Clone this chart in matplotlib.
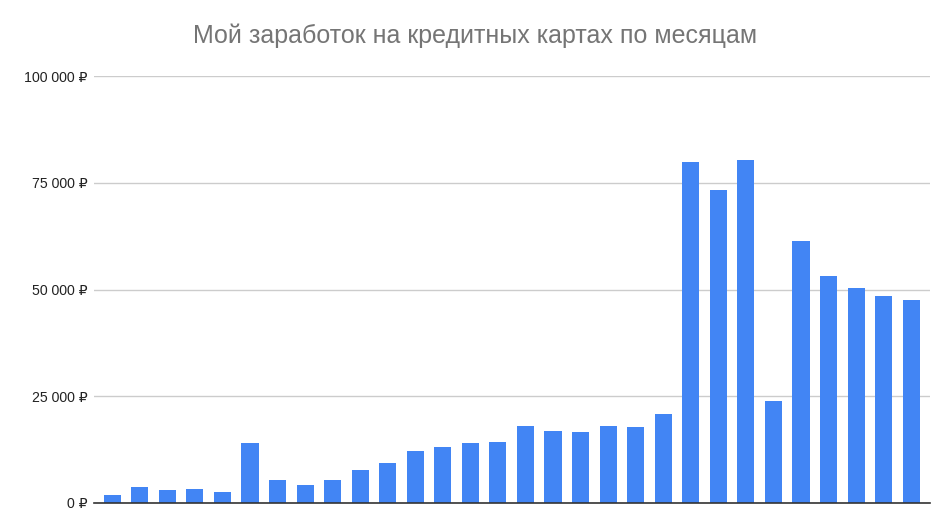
import matplotlib
matplotlib.use("Agg")
import matplotlib.pyplot as plt
from matplotlib.ticker import FuncFormatter

title = "Мой заработок на кредитных картах по месяцам"
months = list(range(1, 31))
earnings = [1800, 3800, 3000, 3300, 2650, 14100, 5300, 4150, 5300, 7650,
            9450, 12100, 13200, 14100, 14400, 17950, 16800, 16550, 17950, 17700,
            20900, 79800, 73300, 80400, 23850, 61500, 53250, 50400, 48500, 47650]
yticks = [0, 25000, 50000, 75000, 100000]

plt.rcParams['font.family'] = ['Liberation Sans', 'DejaVu Sans']

fig = plt.figure(figsize=(9.39, 5.12), dpi=100)
ax = fig.add_axes([0.1005, 0.0176, 0.8895, 0.8334])

x = list(range(len(earnings)))
ax.bar(x, earnings, width=0.62, color='#4285f4', zorder=3)

ax.set_xlim(-0.65, len(earnings) - 1 + 0.67)
ax.set_ylim(0, 100000)
ax.set_yticks(yticks)

def fmt(v, pos):
    return f"{int(v):,}".replace(",", " ") + " ₽"

ax.yaxis.set_major_formatter(FuncFormatter(fmt))
ax.grid(axis='y', color='#cccccc', linewidth=1, zorder=0)
ax.set_xticks([])
for s in ['top', 'right', 'left']:
    ax.spines[s].set_visible(False)
ax.spines['bottom'].set_color('#333333')
ax.spines['bottom'].set_linewidth(1.2)
ax.spines['bottom'].set_zorder(4)
ax.tick_params(axis='y', length=0, pad=5, labelsize=10.2, labelcolor='#222222')

fig.text(0.506, 0.930, title, ha='center', va='center', fontsize=18, color='#757575')

fig.savefig("out.png", dpi=100)
